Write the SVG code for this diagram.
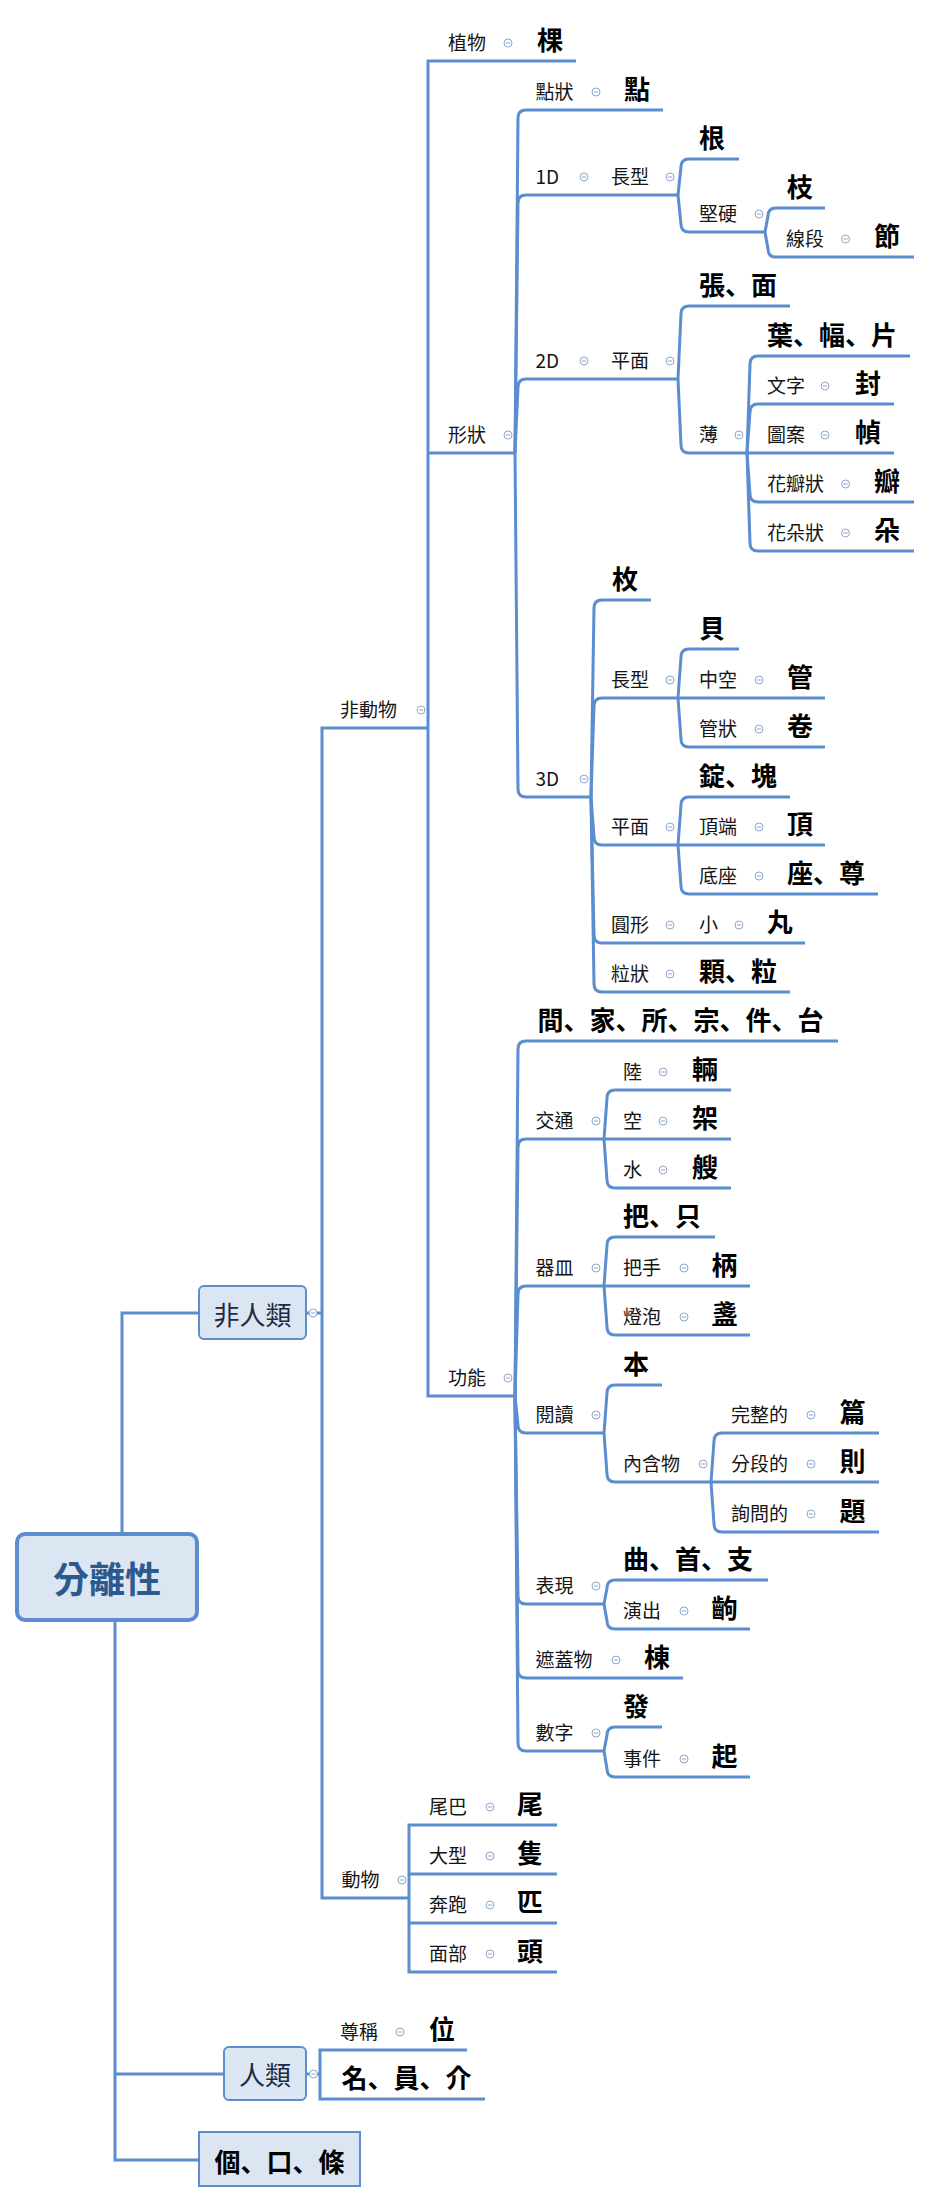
<svg xmlns="http://www.w3.org/2000/svg" xmlns:xlink="http://www.w3.org/1999/xlink" width="928" height="2203" viewBox="0 0 928 2203">
<style>
.ln{fill:none;stroke:#5b8dd0;stroke-width:3;stroke-linejoin:miter}
.t{font-family:"Noto Sans CJK TC","Noto Sans CJK JP",sans-serif;font-size:19px;fill:#151515}
.b{font-family:"Noto Sans CJK TC","Noto Sans CJK JP",sans-serif;font-size:26px;font-weight:700;fill:#000}
.bj{font-family:"Noto Sans CJK JP","Noto Sans CJK TC",sans-serif;font-size:26px;font-weight:700;fill:#000}
.box{fill:#dce6f2;stroke:#5b8dd0;stroke-width:2}
.bt{font-family:"Noto Sans CJK TC","Noto Sans CJK JP",sans-serif;font-size:26px;fill:#1c2b42;text-anchor:middle;dominant-baseline:central}
.rt{font-family:"Noto Sans CJK TC","Noto Sans CJK JP",sans-serif;font-size:36px;font-weight:700;fill:#2d5a8e;text-anchor:middle;dominant-baseline:central}
</style>
<defs>
<g id="c"><circle r="4" fill="#fff" stroke="#8ea7ca" stroke-width="1"/><path d="M-2.2 0H2.2" stroke="#8ea7ca" stroke-width="1"/></g>
</defs>
<rect width="928" height="2203" fill="#fff"/>

<g id="connectors" class="ln">
<!-- root and first levels: square elbows -->
<path d="M122 1534V1313H199"/>
<path d="M115 1620V2160H199"/>
<path d="M115 2074H224"/>
<path d="M306 1313H322"/>
<path d="M428 728H322V1898H409"/>
<path d="M576 61H428V1396H515"/>
<path d="M428 453H515"/>
<path d="M557 1825H409V1972H557"/>
<path d="M409 1874H557"/>
<path d="M409 1923H557"/>
<path d="M306 2074H320"/>
<path d="M467 2050H320V2099H485"/>
<!-- shape branch: curved -->
<path d="M515 453L518 118Q518 110 526 110H663"/>
<path d="M515 453L518 203Q518 195 526 195H678"/>
<path d="M515 453L518 387Q518 379 526 379H678"/>
<path d="M515 453L518 789Q518 797 526 797H591"/>
<path d="M678 195L681 167Q681 159 689 159H739"/>
<path d="M678 195L681 224Q681 232 689 232H765"/>
<path d="M765 232L768 216Q768 208 776 208H825"/>
<path d="M765 232L768 249Q768 257 776 257H914"/>
<path d="M678 379L681 314Q681 306 689 306H790"/>
<path d="M678 379L681 445Q681 453 689 453H747"/>
<path d="M747 453L750 364Q750 356 758 356H910"/>
<path d="M747 453L750 412Q750 404 758 404H894"/>
<path d="M747 453H894"/>
<path d="M747 453L750 494Q750 502 758 502H914"/>
<path d="M747 453L750 543Q750 551 758 551H914"/>
<path d="M591 797L594 608Q594 600 602 600H651"/>
<path d="M591 797L594 706Q594 698 602 698H678"/>
<path d="M591 797L594 837Q594 845 602 845H678"/>
<path d="M591 797L594 935Q594 943 602 943H805"/>
<path d="M591 797L594 984Q594 992 602 992H790"/>
<path d="M678 698L681 657Q681 649 689 649H739"/>
<path d="M678 698H825"/>
<path d="M678 698L681 739Q681 747 689 747H825"/>
<path d="M678 845L681 805Q681 797 689 797H790"/>
<path d="M678 845H825"/>
<path d="M678 845L681 886Q681 894 689 894H878"/>
<!-- function branch: curved -->
<path d="M515 1396L518 1049Q518 1041 526 1041H838"/>
<path d="M515 1396L518 1147Q518 1139 526 1139H604"/>
<path d="M515 1396L518 1294Q518 1286 526 1286H604"/>
<path d="M515 1396L518 1425Q518 1433 526 1433H604"/>
<path d="M515 1396L518 1596Q518 1604 526 1604H604"/>
<path d="M515 1396L518 1670Q518 1678 526 1678H683"/>
<path d="M515 1396L518 1743Q518 1751 526 1751H604"/>
<path d="M604 1139L607 1098Q607 1090 615 1090H731"/>
<path d="M604 1139H731"/>
<path d="M604 1139L607 1180Q607 1188 615 1188H731"/>
<path d="M604 1286L607 1245Q607 1237 615 1237H715"/>
<path d="M604 1286H750"/>
<path d="M604 1286L607 1327Q607 1335 615 1335H750"/>
<path d="M604 1433L607 1393Q607 1385 615 1385H662"/>
<path d="M604 1433L607 1474Q607 1482 615 1482H711"/>
<path d="M711 1482L714 1441Q714 1433 722 1433H879"/>
<path d="M711 1482H879"/>
<path d="M711 1482L714 1524Q714 1532 722 1532H879"/>
<path d="M604 1604L607 1588Q607 1580 615 1580H768"/>
<path d="M604 1604L607 1621Q607 1629 615 1629H750"/>
<path d="M604 1751L607 1735Q607 1727 615 1727H662"/>
<path d="M604 1751L607 1769Q607 1777 615 1777H750"/>
</g>

<!-- root topic -->
<g id="root">
<rect x="17" y="1534" width="180" height="86" rx="8" fill="#dce6f2" stroke="#5b8dd0" stroke-width="4"/>
<text class="rt" x="107" y="1577">分離性</text>
</g>

<g id="non-human">
<rect class="box" x="199" y="1286" width="107" height="53" rx="5"/>
<text class="bt" x="252.5" y="1313">非人類</text>
<use href="#c" x="313" y="1313"/>
</g>
<g id="human">
<rect class="box" x="224" y="2047" width="82" height="53" rx="5"/>
<text class="bt" x="265" y="2073">人類</text>
<use href="#c" x="313.5" y="2074"/>
</g>
<g id="general">
<rect class="box" x="199" y="2132" width="161" height="54"/>
<text class="bj" x="279.5" y="2160" text-anchor="middle" dominant-baseline="central">個、口、條</text>
</g>

<g id="non-animal"><text class="t" x="340" y="717">非動物</text><use href="#c" x="421" y="710"/></g>
<g id="plant"><text class="t" x="448" y="50">植物</text><use href="#c" x="508" y="43"/></g>
<g id="plant-cl"><text class="b" x="537" y="50">棵</text></g>
<g id="shape"><text class="t" x="448" y="442">形狀</text><use href="#c" x="508" y="435"/></g>
<g id="function"><text class="t" x="448" y="1385">功能</text><use href="#c" x="508" y="1378"/></g>

<g id="dot"><text class="t" x="535.5" y="99">點狀</text><use href="#c" x="596" y="92"/></g>
<g id="dot-cl"><text class="b" x="624" y="99">點</text></g>
<g id="d1"><text class="t" x="535.5" y="184">1D</text><use href="#c" x="584" y="177"/></g>
<g id="d1-long"><text class="t" x="611" y="184">長型</text><use href="#c" x="670" y="177"/></g>
<g id="root-cl"><text class="b" x="699" y="148">根</text></g>
<g id="hard"><text class="t" x="699" y="221">堅硬</text><use href="#c" x="759" y="214"/></g>
<g id="branch-cl"><text class="b" x="787" y="197">枝</text></g>
<g id="segment"><text class="t" x="786" y="246">線段</text><use href="#c" x="845.5" y="239"/></g>
<g id="segment-cl"><text class="b" x="874" y="246">節</text></g>

<g id="d2"><text class="t" x="535.5" y="368">2D</text><use href="#c" x="584" y="361"/></g>
<g id="d2-flat"><text class="t" x="611" y="368">平面</text><use href="#c" x="670" y="361"/></g>
<g id="sheet-cl"><text class="bj" x="699" y="295">張、面</text></g>
<g id="thin"><text class="t" x="699" y="442">薄</text><use href="#c" x="739" y="435"/></g>
<g id="leaf-cl"><text class="bj" x="767" y="345">葉、幅、片</text></g>
<g id="text"><text class="t" x="767" y="393">文字</text><use href="#c" x="825" y="386"/></g>
<g id="text-cl"><text class="b" x="855" y="393">封</text></g>
<g id="pattern"><text class="t" x="767" y="442">圖案</text><use href="#c" x="825" y="435"/></g>
<g id="pattern-cl"><text class="b" x="855" y="442">幀</text></g>
<g id="petal"><text class="t" x="767" y="491">花瓣狀</text><use href="#c" x="845.5" y="484"/></g>
<g id="petal-cl"><text class="b" x="874" y="491">瓣</text></g>
<g id="flower"><text class="t" x="767" y="540">花朵狀</text><use href="#c" x="845.5" y="533"/></g>
<g id="flower-cl"><text class="b" x="874" y="540">朵</text></g>

<g id="d3"><text class="t" x="535.5" y="786">3D</text><use href="#c" x="584" y="779"/></g>
<g id="d3-cl"><text class="b" x="612" y="589">枚</text></g>
<g id="d3-long"><text class="t" x="611" y="687">長型</text><use href="#c" x="670" y="680"/></g>
<g id="shell-cl"><text class="b" x="699" y="638">貝</text></g>
<g id="hollow"><text class="t" x="699" y="687">中空</text><use href="#c" x="759" y="680"/></g>
<g id="hollow-cl"><text class="b" x="787" y="687">管</text></g>
<g id="tube"><text class="t" x="699" y="736">管狀</text><use href="#c" x="759" y="729"/></g>
<g id="tube-cl"><text class="b" x="787" y="736">卷</text></g>
<g id="d3-flat"><text class="t" x="611" y="834">平面</text><use href="#c" x="670" y="827"/></g>
<g id="block-cl"><text class="bj" x="699" y="786">錠、塊</text></g>
<g id="top"><text class="t" x="699" y="834">頂端</text><use href="#c" x="759" y="827"/></g>
<g id="top-cl"><text class="b" x="787" y="834">頂</text></g>
<g id="base"><text class="t" x="699" y="883">底座</text><use href="#c" x="759" y="876"/></g>
<g id="base-cl"><text class="bj" x="787" y="883">座、尊</text></g>
<g id="round"><text class="t" x="611" y="932">圓形</text><use href="#c" x="670" y="925"/></g>
<g id="small"><text class="t" x="699" y="932">小</text><use href="#c" x="739" y="925"/></g>
<g id="small-cl"><text class="b" x="767" y="932">丸</text></g>
<g id="grain"><text class="t" x="611" y="981">粒狀</text><use href="#c" x="670" y="974"/></g>
<g id="grain-cl"><text class="bj" x="699" y="981">顆、粒</text></g>

<g id="function-cl"><text class="bj" x="537.5" y="1030">間、家、所、宗、件、台</text></g>
<g id="traffic"><text class="t" x="535.5" y="1128">交通</text><use href="#c" x="596" y="1121"/></g>
<g id="land"><text class="t" x="623" y="1079">陸</text><use href="#c" x="663" y="1072"/></g>
<g id="land-cl"><text class="b" x="692" y="1079">輛</text></g>
<g id="air"><text class="t" x="623" y="1128">空</text><use href="#c" x="663" y="1121"/></g>
<g id="air-cl"><text class="b" x="692" y="1128">架</text></g>
<g id="water"><text class="t" x="623" y="1177">水</text><use href="#c" x="663" y="1170"/></g>
<g id="water-cl"><text class="b" x="692" y="1177">艘</text></g>
<g id="vessel"><text class="t" x="535.5" y="1275">器皿</text><use href="#c" x="596" y="1268"/></g>
<g id="vessel-cl"><text class="bj" x="623" y="1226">把、只</text></g>
<g id="handle"><text class="t" x="623" y="1275">把手</text><use href="#c" x="684" y="1268"/></g>
<g id="handle-cl"><text class="b" x="711.5" y="1275">柄</text></g>
<g id="bulb"><text class="t" x="623" y="1324">燈泡</text><use href="#c" x="684" y="1317"/></g>
<g id="bulb-cl"><text class="b" x="711.5" y="1324">盞</text></g>
<g id="reading"><text class="t" x="535.5" y="1422">閱讀</text><use href="#c" x="596" y="1415"/></g>
<g id="reading-cl"><text class="b" x="623" y="1374">本</text></g>
<g id="content"><text class="t" x="623" y="1471">內含物</text><use href="#c" x="703" y="1464"/></g>
<g id="whole"><text class="t" x="731" y="1422">完整的</text><use href="#c" x="811" y="1415"/></g>
<g id="whole-cl"><text class="b" x="839.5" y="1422">篇</text></g>
<g id="part"><text class="t" x="731" y="1471">分段的</text><use href="#c" x="811" y="1464"/></g>
<g id="part-cl"><text class="b" x="839.5" y="1471">則</text></g>
<g id="question"><text class="t" x="731" y="1521">詢問的</text><use href="#c" x="811" y="1514"/></g>
<g id="question-cl"><text class="b" x="839.5" y="1521">題</text></g>
<g id="perform"><text class="t" x="535.5" y="1593">表現</text><use href="#c" x="596" y="1586"/></g>
<g id="perform-cl"><text class="bj" x="623" y="1569">曲、首、支</text></g>
<g id="show"><text class="t" x="623" y="1618">演出</text><use href="#c" x="684" y="1611"/></g>
<g id="show-cl"><text class="b" x="711.5" y="1618">齣</text></g>
<g id="cover"><text class="t" x="535.5" y="1667">遮蓋物</text><use href="#c" x="616" y="1660"/></g>
<g id="cover-cl"><text class="b" x="644" y="1667">棟</text></g>
<g id="number"><text class="t" x="535.5" y="1740">數字</text><use href="#c" x="596" y="1733"/></g>
<g id="number-cl"><text class="b" x="623" y="1716">發</text></g>
<g id="event"><text class="t" x="623" y="1766">事件</text><use href="#c" x="684" y="1759"/></g>
<g id="event-cl"><text class="b" x="711.5" y="1766">起</text></g>

<g id="animal"><text class="t" x="341.5" y="1887">動物</text><use href="#c" x="402" y="1880"/></g>
<g id="tail"><text class="t" x="429" y="1814">尾巴</text><use href="#c" x="490" y="1807"/></g>
<g id="tail-cl"><text class="b" x="517" y="1814">尾</text></g>
<g id="large"><text class="t" x="429" y="1863">大型</text><use href="#c" x="490" y="1856"/></g>
<g id="large-cl"><text class="b" x="517" y="1863">隻</text></g>
<g id="run"><text class="t" x="429" y="1912">奔跑</text><use href="#c" x="490" y="1905"/></g>
<g id="run-cl"><text class="b" x="517" y="1912">匹</text></g>
<g id="face"><text class="t" x="429" y="1961">面部</text><use href="#c" x="490" y="1954"/></g>
<g id="face-cl"><text class="b" x="517" y="1961">頭</text></g>

<g id="honorific"><text class="t" x="340" y="2039">尊稱</text><use href="#c" x="400" y="2032"/></g>
<g id="honorific-cl"><text class="b" x="429" y="2039">位</text></g>
<g id="human-cl"><text class="bj" x="341.5" y="2088">名、員、介</text></g>
</svg>
